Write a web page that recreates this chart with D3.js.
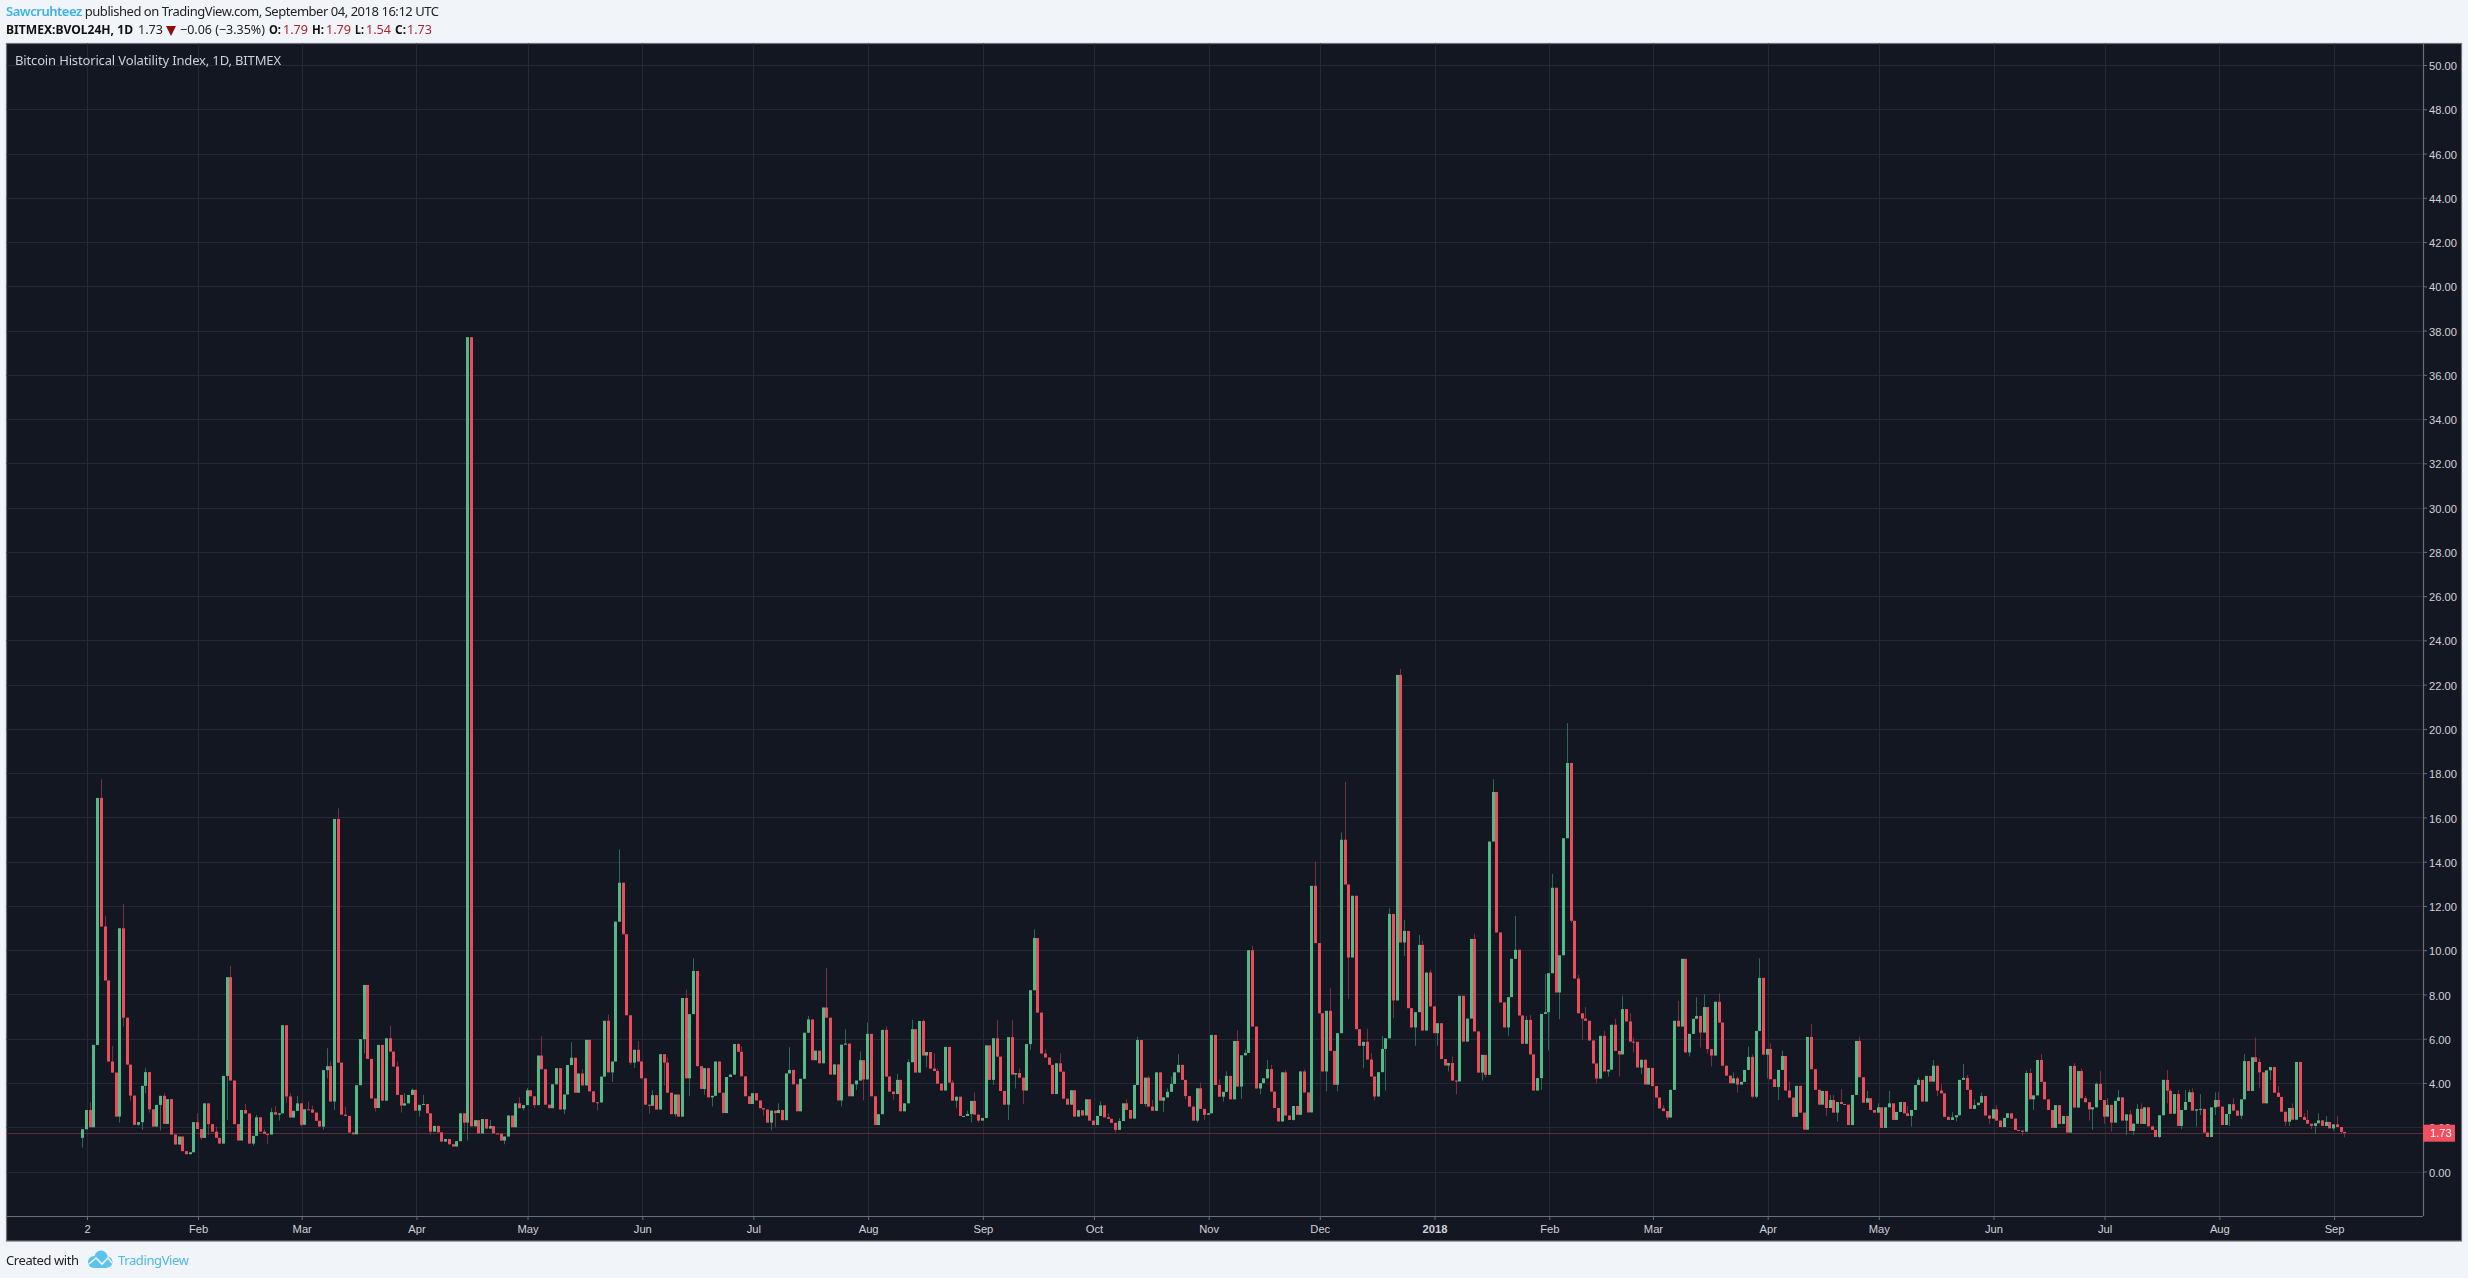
<!DOCTYPE html>
<html><head><meta charset="utf-8">
<script src="https://cdn.jsdelivr.net/npm/d3@7/dist/d3.min.js"></script>
<style>
html,body{margin:0;padding:0;background:#f1f4f8;overflow:hidden}
svg{display:block;filter:blur(0.3px)}
.hd{font-family:"Noto Sans",sans-serif;font-size:13px}
.ax text{font-family:"Liberation Sans",Arial,sans-serif;font-size:11.2px;fill:#d0d2d6}
</style></head><body>
<svg id="c" width="2468" height="1278"></svg>
<script>
// Daily closes, Jan 1 2017 to Sep 4 2018 (each open is the close before it)
const firstOpen = 1.52;
const closes = [
1.91,2.78,2.00,5.72,16.88,11.07,8.63,4.97,4.47,2.48,
10.99,6.95,4.83,3.43,2.11,2.23,3.87,4.49,2.81,2.03,
3.01,3.42,2.15,3.27,1.67,1.22,1.58,0.92,0.78,0.87,
2.23,1.92,1.52,3.08,2.14,1.80,1.52,1.26,4.32,8.78,
4.11,2.14,1.40,2.78,2.62,1.26,1.61,2.45,1.80,1.70,
1.67,2.68,2.57,2.63,6.61,3.39,2.44,2.74,3.08,2.11,
2.81,2.80,2.66,2.29,2.03,4.58,4.76,3.16,15.93,4.92,
2.57,2.51,1.76,1.68,3.90,5.98,8.43,5.09,3.30,2.87,
5.72,3.20,6.02,5.42,4.74,3.46,2.98,3.08,3.46,3.69,
2.75,3.01,3.05,2.63,1.80,2.06,1.77,1.35,1.47,1.23,
1.13,1.37,2.63,2.21,37.70,2.04,2.32,1.72,2.37,1.94,
2.05,1.72,1.71,1.40,1.58,2.53,2.00,3.08,2.86,3.00,
3.67,3.40,3.00,5.24,4.62,3.02,2.86,3.94,4.67,2.80,
3.48,4.81,5.14,3.56,4.43,3.89,5.95,3.62,3.13,3.12,
4.29,6.81,4.48,4.97,11.29,13.05,10.72,7.06,4.92,5.50,
4.97,4.21,3.02,2.97,3.45,2.80,5.30,4.92,3.56,2.59,
3.48,2.48,7.84,4.21,7.11,9.06,4.76,3.73,4.67,3.35,
3.42,4.97,3.56,2.64,4.27,4.38,5.76,5.41,4.30,3.40,
3.05,3.54,3.21,2.86,2.80,2.21,2.75,2.64,2.78,2.32,
4.43,4.59,3.94,2.72,4.19,6.27,6.87,5.03,5.46,4.89,
7.41,6.95,4.38,4.84,3.21,5.73,5.78,3.40,3.94,4.11,
5.03,4.16,6.22,3.40,2.10,2.59,6.40,4.29,3.61,3.50,
4.14,2.72,3.08,4.94,6.43,4.47,6.80,5.24,5.40,4.65,
4.54,3.97,3.66,5.63,4.02,3.20,3.38,2.51,2.51,2.60,
3.19,2.57,2.30,2.42,5.70,4.14,6.02,5.19,3.64,3.02,
6.07,4.38,4.45,4.24,3.66,5.76,8.19,10.55,7.18,5.33,
5.15,4.82,3.50,4.89,4.51,3.29,3.02,3.67,2.48,2.77,
2.53,3.26,2.30,2.10,2.51,2.99,2.45,2.38,2.20,1.88,
2.28,3.08,2.78,2.39,3.91,5.94,3.05,4.24,2.93,2.74,
4.48,3.20,3.35,3.60,3.96,4.48,4.82,4.14,3.41,2.93,
2.30,3.76,2.83,2.56,2.63,6.17,3.91,3.38,3.60,4.32,
3.26,5.90,3.84,5.25,5.36,10.00,6.55,3.75,3.99,4.21,
4.63,3.61,2.87,2.26,4.48,2.53,2.33,2.96,2.56,4.52,
3.57,2.67,12.91,10.32,7.15,4.52,7.26,5.45,3.92,6.25,
14.99,12.97,9.67,12.46,6.43,5.68,5.86,5.06,4.29,3.39,
4.49,5.54,6.02,11.64,7.73,22.44,10.35,10.87,7.38,6.51,
7.20,10.24,6.37,8.99,7.46,6.25,6.70,5.08,4.79,4.90,
4.11,4.07,7.94,5.87,6.91,10.51,6.33,4.47,5.27,4.37,
14.91,17.15,10.80,7.64,6.51,7.88,9.61,10.02,7.05,5.77,
6.85,5.29,3.66,4.22,7.12,7.20,8.96,12.82,8.09,9.77,
15.06,18.46,11.33,8.72,7.15,6.91,6.81,5.92,4.88,4.20,
6.13,4.52,4.60,6.63,5.45,5.29,7.34,6.78,5.87,5.86,
4.70,5.05,3.93,4.68,3.86,3.34,2.85,2.73,2.44,3.69,
6.81,6.55,9.61,5.38,6.22,6.90,7.03,6.28,7.43,5.53,
5.24,7.67,6.73,4.78,4.33,3.99,4.21,3.93,4.05,4.59,
5.18,3.38,6.35,8.75,5.28,5.54,4.17,3.82,4.59,5.22,
3.66,3.34,2.47,3.87,2.66,1.89,6.08,4.62,3.69,3.02,
3.64,2.87,3.23,2.66,3.14,3.05,3.02,2.10,3.46,5.90,
4.26,3.11,3.31,2.78,2.66,2.90,1.97,2.90,3.08,2.33,
2.69,3.14,2.63,2.51,2.78,3.91,4.14,3.16,4.32,4.06,
4.78,3.66,3.53,2.47,2.33,2.45,2.54,4.14,4.23,3.69,
2.83,3.00,3.11,3.41,2.53,2.39,2.81,2.30,2.01,2.42,
2.63,2.39,1.88,1.85,1.80,4.45,3.26,3.44,5.04,4.05,
3.26,2.78,1.97,3.00,2.15,2.51,1.76,4.77,2.89,4.54,
3.31,3.13,2.81,2.90,3.96,3.23,2.48,3.01,2.21,3.19,
3.35,2.30,2.58,1.83,2.16,2.83,2.15,2.90,2.04,1.88,
1.56,2.54,4.14,3.65,2.61,3.50,2.06,2.78,3.14,3.58,
2.75,2.81,2.83,1.76,1.56,2.90,3.23,2.93,2.10,2.60,
3.04,2.75,2.52,3.26,4.99,3.64,5.16,4.95,4.48,3.08,
4.57,4.72,3.56,3.37,2.70,2.25,2.87,2.34,4.95,2.46,
2.33,2.16,2.06,2.18,2.31,2.06,2.24,1.95,2.13,2.01,
1.79,1.73];
// Upper wicks: [day number, high] where a wick shows above the body
const highWicks = [[2,3.13],[5,17.72],[6,11.55],[8,5.67],[11,12.09],[17,4.67],[22,3.54],[31,2.63],[36,2.03],[40,9.29],[44,3.05],[47,2.56],[49,1.92],[51,2.86],[52,2.96],[56,3.54],[58,3.42],[61,3.16],[62,2.98],[66,5.57],[67,4.97],[69,16.41],[71,2.93],[83,6.58],[85,4.97],[87,3.54],[89,3.76],[92,3.46],
[110,2.32],[118,3.35],[120,3.78],[124,6.11],[132,5.84],[135,4.62],[142,7.09],[145,14.56],[150,5.89],[154,3.67],[158,5.14],[163,8.22],[165,9.63],[177,5.8],[178,5.65],[188,3.08],[191,5.62],[196,7.03],[201,9.2],[206,6.43],[210,5.43],[212,6.73],
[217,6.55],[220,4.41],[223,5.07],[224,6.85],[227,6.88],[229,5.31],[230,5.34],[231,4.66],[235,4.14],[239,2.75],[241,3.57],[247,6.85],[251,6.85],[253,4.66],[257,10.94],[260,5.52],[264,5.34],[275,3.17],[277,2.63],[280,2.41],[282,3.26],[285,6.09],[288,4.32],[289,3.23],[293,3.75],[294,4.29],[296,5.31],[302,4.02],[307,4.17],[309,4.53],[312,6.37],[314,5.52],[316,10.19],[320,5.04],[321,4.82],[325,4.59],
[330,4.62],[333,14.0],[337,8.28],[340,15.32],[341,17.61],[347,6.45],[348,5.35],[351,6.13],[353,11.9],[356,22.71],[357,11.37],[361,10.69],[362,10.42],[364,9.11],[370,5.20],[376,10.74],[381,17.73],[387,11.55],[390,7.03],[391,7.08],[395,8.93],[397,13.45],[401,20.26],[404,8.89],[406,7.43],[411,6.36],[414,6.90],[416,7.94],[418,7.15],[419,6.05],[427,3.0],[431,7.71],[436,7.88],[438,8.01],[442,8.06],
[445,4.32],[446,4.47],[447,4.29],[450,5.64],[451,5.3],[453,9.63],[456,5.79],[459,5.46],[461,4.06],[467,6.67],[472,3.46],[473,3.46],[475,3.72],[480,6.09],[482,3.64],[485,3.08],[488,3.64],[493,2.96],[496,4.26],[500,5.04],[502,3.94],[505,2.68],[508,4.86],[509,4.36],[511,3.26],[513,3.56],[517,3.0],[525,4.56],[526,4.66],[529,5.30],[538,4.89],[540,4.66],[541,3.41],[544,4.03],[545,4.54],[547,3.31],[550,3.69],
[553,2.78],[555,3.05],[556,3.08],[563,4.59],[564,3.71],[566,3.68],[568,3.68],[569,3.71],[570,3.76],[572,3.50],[576,3.58],[577,3.58],[581,3.31],[584,5.31],[587,6.06],[588,5.11],[593,3.86],[597,3.08],[600,2.63],[601,2.78],[604,2.63],[606,2.51],[609,2.51]];
// Lower wicks: [day number, low] where a wick shows below the body
const lowWicks = [[0,1.08],[10,2.21],[11,6.55],[13,3.20],[15,2.06],[16,1.88],[17,3.54],[18,2.66],[21,1.85],[32,1.43],[34,1.65],[39,2.33],[46,1.17],[50,1.25],[53,2.30],[55,3.11],[59,2.03],[65,1.88],[66,4.21],[68,2.78],[76,5.34],[79,2.71],[86,2.66],[91,2.48],[94,1.65],[103,1.80],[104,1.40],
[114,1.23],[119,2.76],[122,2.87],[130,2.59],[139,2.75],[143,4.05],[148,4.82],[149,4.68],[153,2.61],[157,3.89],[160,2.48],[164,3.40],[168,3.47],[170,2.94],[184,2.53],[186,1.86],[187,2.0],[205,2.94],[209,3.68],[211,3.21],
[219,3.23],[228,4.71],[236,2.86],[240,2.21],[242,2.21],[246,3.91],[250,2.33],[252,3.75],[254,3.05],[256,5.49],[279,1.76],[287,2.93],[292,2.69],[298,3.26],[301,2.21],[303,2.33],[308,3.16],[313,3.29],[318,3.49],[327,2.30],
[336,3.62],[339,3.62],[342,7.80],[346,4.67],[349,3.21],[352,3.66],[354,6.93],[357,9.74],[360,5.68],[366,5.68],[369,4.52],[371,3.48],[378,4.11],[379,4.25],[385,6.13],[394,3.69],[396,5.47],[399,6.88],[402,11.25],[405,5.95],[409,3.99],[412,4.29],[415,4.29],[419,5.38],[421,4.40],[428,2.32],[434,5.20],[437,5.60],[439,5.32],[440,4.74],
[447,3.56],[451,3.3],[452,3.31],[455,4.21],[458,3.23],[471,2.51],[474,2.26],[494,2.03],[501,3.41],[506,2.27],[515,2.15],[524,1.62],[527,2.78],[542,2.30],[543,1.88],[546,2.15],[548,1.80],
[552,1.65],[554,1.65],[561,1.50],[563,3.08],[567,1.91],[571,2.03],[572,2.55],[576,2.55],[580,2.06],[583,2.37],[588,3.76],[591,4.14],[595,2.06],[596,2.06],[602,1.92],[603,1.70],[608,1.85],[610,1.70],[611,1.54]];
const tickDays   = [1,31,59,90,120,151,181,212,243,273,304,334,365,396,424,455,485,516,546,577,608];
const tickLabels = ["2","Feb","Mar","Apr","May","Jun","Jul","Aug","Sep","Oct","Nov","Dec","2018","Feb","Mar","Apr","May","Jun","Jul","Aug","Sep"];
const priceTicks = d3.range(0,51,2);
const lastPrice = 1.73;

const BG="#131722",GRID="#262a36",AX="#6b6e74",UP="#53b987",DN="#eb4d5c",UPW="#2c6a52",DNW="#7a2f3e",LBL="#ef5060";
const L=6.5,T=43.5,R=2461.5,B=1241,PR=2423,PB=1216;
const svg=d3.select("#c");
const x=d3.scaleLinear().domain([0,611]).range([82.3,82.3+3.702*611]);
const y=d3.scaleLinear().domain([0,50]).range([1171.5,65]);
const tx=d=>x(d)+1;

svg.append("rect").attr("x",L).attr("y",T).attr("width",R-L).attr("height",B-T).attr("fill",BG).attr("stroke","#6f7278").attr("stroke-width",1.2);

const g=svg.append("g");
g.selectAll("line.v").data(tickDays).join("line").attr("class","v")
 .attr("x1",d=>Math.round(tx(d))+.5).attr("x2",d=>Math.round(tx(d))+.5).attr("y1",T).attr("y2",PB).attr("stroke",GRID);
g.selectAll("line.h").data(priceTicks).join("line").attr("class","h")
 .attr("x1",L).attr("x2",PR).attr("y1",d=>Math.round(y(d))+.5).attr("y2",d=>Math.round(y(d))+.5).attr("stroke",GRID);

g.append("line").attr("x1",L).attr("x2",PR).attr("y1",Math.round(y(lastPrice))+.5).attr("y2",Math.round(y(lastPrice))+.5).attr("stroke","#5e2a36");

const candles=closes.map((c,i)=>{
  const o=i?closes[i-1]:firstOpen;
  return {i,o,c,h:Math.max(o,c),l:Math.min(o,c)};
});
highWicks.forEach(([i,v])=>{candles[i].h=Math.max(candles[i].h,v)});
lowWicks.forEach(([i,v])=>{candles[i].l=Math.min(candles[i].l,v)});

g.selectAll("line.w").data(candles).join("line").attr("class","w")
 .attr("x1",d=>Math.round(x(d.i))+.5).attr("x2",d=>Math.round(x(d.i))+.5)
 .attr("y1",d=>y(d.h)).attr("y2",d=>y(d.l))
 .attr("stroke",d=>d.c>=d.o?UPW:DNW);
g.selectAll("rect.b").data(candles).join("rect").attr("class","b")
 .attr("x",d=>Math.round(x(d.i))-1).attr("width",3)
 .attr("y",d=>y(Math.max(d.o,d.c)))
 .attr("height",d=>Math.max(1,Math.abs(y(d.o)-y(d.c))))
 .attr("fill",d=>d.c>=d.o?UP:DN);

// axes
const xAxis=d3.axisBottom(d3.scaleLinear().domain(x.domain()).range([x(0)+1,x(611)+1]))
  .tickValues(tickDays).tickSize(4).tickPadding(5).tickFormat(d=>tickLabels[tickDays.indexOf(d)]);
const gx=svg.append("g").attr("class","ax").attr("transform",`translate(0,${PB})`).call(xAxis);
gx.select(".domain").remove();
gx.selectAll("line").attr("stroke",AX);
gx.selectAll("text").attr("font-weight",d=>d===365?"bold":null);
const yAxis=d3.axisRight(y).tickValues(priceTicks).tickSize(4).tickPadding(2).tickFormat(d3.format(".2f"));
const gy=svg.append("g").attr("class","ax").attr("transform",`translate(${PR},0)`).call(yAxis);
gy.select(".domain").remove();
gy.selectAll("line").attr("stroke",AX);
gy.selectAll("text").attr("y",1);
svg.append("line").attr("x1",L).attr("x2",PR).attr("y1",PB+.5).attr("y2",PB+.5).attr("stroke",AX).attr("stroke-width",1.2);
svg.append("line").attr("x1",PR+.5).attr("x2",PR+.5).attr("y1",T).attr("y2",PB).attr("stroke",AX).attr("stroke-width",1.2);

// last price label
svg.append("rect").attr("x",PR).attr("y",y(lastPrice)-8.5).attr("width",32).attr("height",17).attr("fill",LBL);
svg.append("text").attr("x",PR+7).attr("y",y(lastPrice)+4).attr("fill","#fff").attr("style",'font:11.2px "Liberation Sans",Arial,sans-serif').text(d3.format(".2f")(lastPrice));

// header
const t1=svg.append("text").attr("class","hd").attr("x",6).attr("y",16).attr("textLength",433).attr("lengthAdjust","spacing");
t1.append("tspan").attr("fill","#3bb3e4").attr("font-weight",600).text("Sawcruhteez");
t1.append("tspan").attr("fill","#222").text(" published on TradingView.com, September 04, 2018 16:12 UTC");
const put=(s,px,w,col,b)=>svg.append("text").attr("class","hd").attr("x",px).attr("y",34).attr("fill",col)
  .attr("font-weight",b?"bold":null).attr("textLength",w).attr("lengthAdjust","spacingAndGlyphs").text(s);
put("BITMEX:BVOL24H, 1D",6,127,"#111",true);
put("1.73",138,25,"#222");
svg.append("path").attr("d",d3.line()([[166,26],[176,26],[171,36]])+"Z").attr("fill","#8b0f0f");
put("−0.06 (−3.35%)",180,85,"#222");
[["O:",269,12,"1.79",283],["H:",312,12,"1.79",326],["L:",355,9,"1.54",366],["C:",395,11,"1.73",407]].forEach(([a,ax,w,v,vx])=>{
  put(a,ax,w,"#111",true); put(v,vx,25,"#b0232a");
});
svg.append("text").attr("class","hd").attr("x",15).attr("y",65).attr("fill","#cdd0d4").attr("textLength",266).text("Bitcoin Historical Volatility Index, 1D, BITMEX");

// footer
svg.append("text").attr("class","hd").attr("x",6).attr("y",1265).attr("fill","#222").attr("textLength",73).text("Created with");
svg.append("text").attr("class","hd").attr("x",118).attr("y",1265).attr("fill","#4fb6e6").attr("textLength",71).text("TradingView");
const logo=svg.append("g").attr("fill","#5cc3ec");
[[94,1262,6],[101,1257,6.5],[107,1262,5.5]].forEach(([a,b,r])=>logo.append("circle").attr("cx",a).attr("cy",b).attr("r",r));
logo.append("rect").attr("x",94).attr("y",1260).attr("width",13).attr("height",8);
svg.append("path").attr("d",d3.line()([[89,1264],[96,1258],[102,1264],[108,1258],[112,1263]])).attr("fill","none").attr("stroke","#f1f4f8").attr("stroke-width",1.6);
</script></body></html>
